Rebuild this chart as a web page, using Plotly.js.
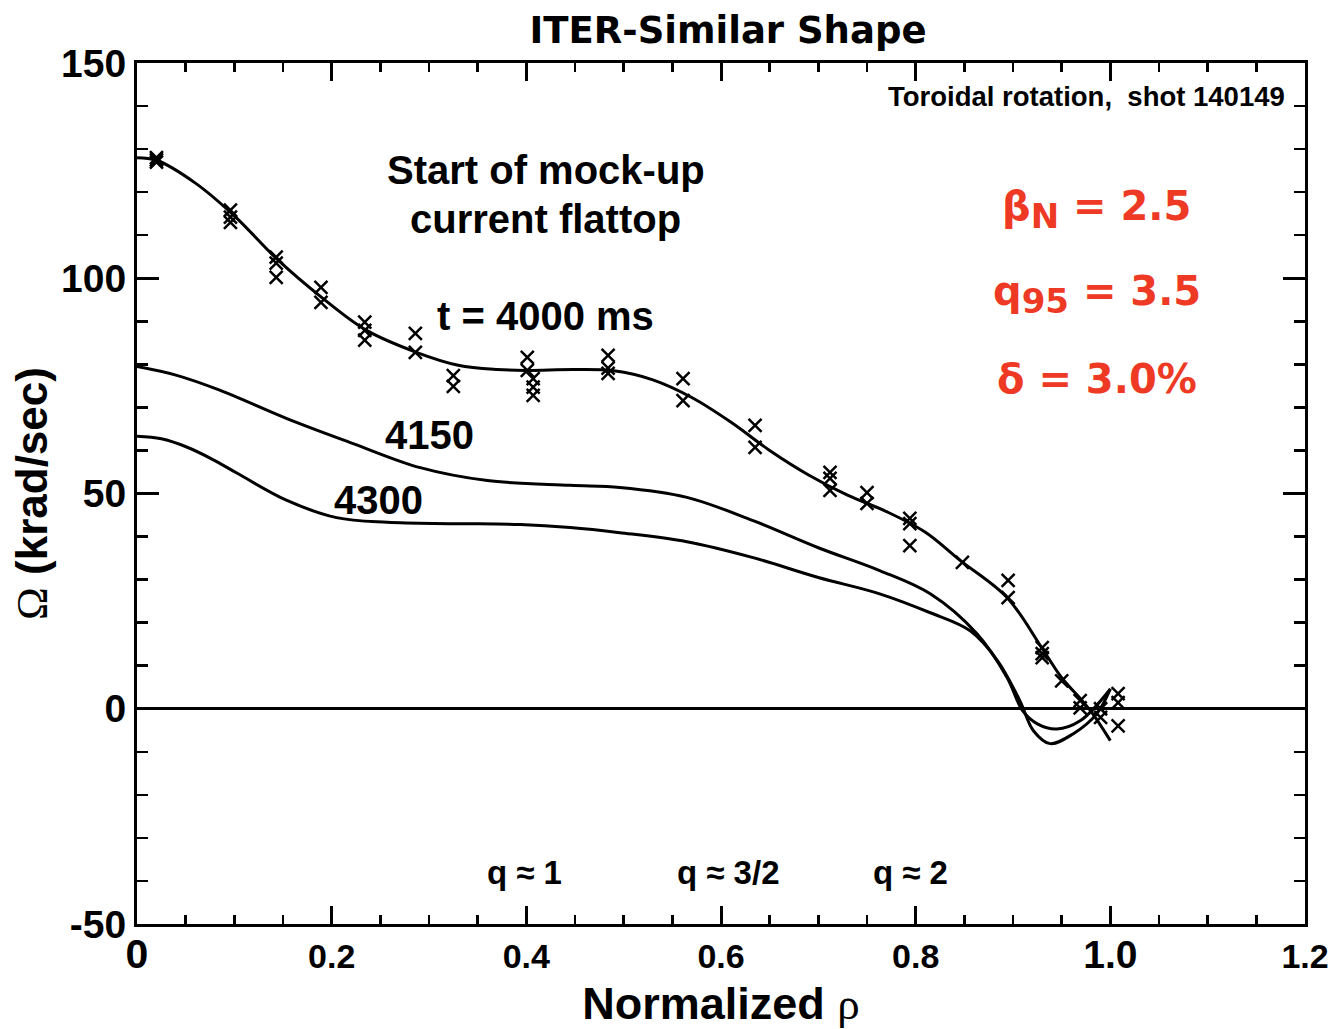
<!DOCTYPE html>
<html>
<head>
<meta charset="utf-8">
<script src="https://cdn.plot.ly/plotly-3.0.1.min.js"></script>
<style>body{margin:0;padding:0;background:#fff;}#chart{width:1344px;height:1029px;}</style>
</head>
<body>
<div id="chart"></div>
<script>
// Fitted profiles
const fit4000X = [0, 0.02, 0.06, 0.1, 0.145, 0.19, 0.235, 0.287, 0.33, 0.37, 0.4, 0.45, 0.49, 0.53, 0.57, 0.61, 0.65, 0.69, 0.73, 0.77, 0.81, 0.846, 0.894, 0.93, 0.95, 0.971, 0.982, 1.0];
const fit4000Y = [128, 127.4, 122.1, 114.5, 104.2, 95.5, 88, 82.8, 79.8, 78.8, 78.6, 78.8, 78.5, 76.4, 72.3, 66.6, 60.0, 54.3, 49.6, 45.8, 41.0, 34.4, 25.8, 14, 7.2, 1.9, -1.2, -7.4];

const fit4150X = [0, 0.04, 0.085, 0.154, 0.222, 0.291, 0.36, 0.445, 0.496, 0.565, 0.633, 0.70, 0.763, 0.815, 0.863, 0.894, 0.91, 0.925, 0.945, 0.969, 1.0];
const fit4150Y = [79.5, 77.5, 74, 67.4, 61.6, 56, 53, 51.9, 51.4, 49.1, 43.7, 37.4, 32.1, 26.7, 17.4, 7.2, -0.5, -3.5, -4.7, -2.8, 4.6];

const fit4300X = [0, 0.025, 0.051, 0.077, 0.103, 0.154, 0.205, 0.257, 0.325, 0.394, 0.445, 0.496, 0.565, 0.633, 0.70, 0.763, 0.815, 0.856, 0.884, 0.907, 0.921, 0.938, 0.962, 0.986, 1.0];
const fit4300Y = [63.3, 62.7, 60.8, 58.0, 54.7, 48.4, 44.4, 43.3, 43, 42.8, 42.1, 40.9, 38.8, 35.1, 30.5, 26.7, 22.3, 18.1, 11.2, 1.9, -5.1, -8.1, -5.8, -1.2, 4.6];

// Measured points (t = 4000 ms)
const obsX = [0.02, 0.02, 0.02, 0.096, 0.096, 0.096, 0.143, 0.143, 0.143, 0.189, 0.189, 0.234, 0.234, 0.234, 0.286, 0.286, 0.325, 0.325, 0.401, 0.401, 0.407, 0.407, 0.407, 0.484, 0.484, 0.484, 0.561, 0.561, 0.635, 0.635, 0.712, 0.712, 0.712, 0.750, 0.750, 0.794, 0.794, 0.794, 0.848, 0.895, 0.895, 0.930, 0.930, 0.930, 0.950, 0.969, 0.969, 0.99, 0.99, 1.008, 1.008, 1.008];
const obsY = [127.0, 127.5, 128.0, 115.8, 114.2, 113.0, 104.9, 103.5, 100.2, 97.9, 94.4, 89.8, 87.9, 85.6, 87.2, 82.8, 77.4, 74.9, 81.6, 78.6, 76.7, 74.7, 72.8, 82.1, 79.1, 77.9, 76.7, 71.6, 65.8, 60.7, 54.9, 53.5, 50.7, 50.2, 47.7, 44.2, 43.0, 37.9, 34.0, 29.8, 25.8, 14.2, 12.8, 11.9, 6.5, 1.9, 0.2, 0.0, -2.0, 3.5, 1.4, -4.0];

const xTickVals = [0, 0.2, 0.4, 0.6, 0.8, 1.0, 1.2];
const xTickText = ['<span style="font-size:41px">0</span>', '0.2', '0.4', '0.6', '0.8', '<span style="font-size:39px">1.0</span>', '1.2'];
const yTickVals = [-50, 0, 50, 100, 150];
const yTickText = ['-50', '0', '50', '100', '150'];

const lineStyle = {color: '#000', width: 3, shape: 'spline', smoothing: 1};
const traces = [
  {x: fit4000X, y: fit4000Y, mode: 'lines', line: lineStyle, hoverinfo: 'skip'},
  {x: fit4150X, y: fit4150Y, mode: 'lines', line: lineStyle, hoverinfo: 'skip'},
  {x: fit4300X, y: fit4300Y, mode: 'lines', line: lineStyle, hoverinfo: 'skip'},
  {x: obsX, y: obsY, mode: 'markers', marker: {symbol: 'x-thin-open', size: 13, color: '#000', line: {color: '#000', width: 2.5}}}
];

const helvB = 'Liberation Sans, Arial, sans-serif';
const gothic = 'DejaVu Sans, sans-serif';
const red = '#ee3a24';

function ann(x, y, text, size, opts) {
  return Object.assign({x: x, y: y, xref: 'x', yref: 'y', text: text, showarrow: false,
    font: {family: helvB, size: size, color: '#000', weight: 'bold'}, xanchor: 'center', yanchor: 'middle'}, opts || {});
}
const redFont = {family: gothic, size: 40, color: red, weight: 'bold'};

const annotations = [
  ann(0.42, 125.1, 'Start of mock-up', 40),
  ann(0.42, 113.8, 'current flattop', 40),
  ann(0.42, 91.2, 't = 4000 ms', 40),
  ann(0.301, 63.5, '4150', 40),
  ann(0.248, 48.4, '4300', 40),
  ann(0.398, -38.1, 'q ≈ 1', 33),
  ann(0.607, -38.1, 'q ≈ 3/2', 33),
  ann(0.795, -38.1, 'q ≈ 2', 33),
  ann(1.181, 142.2, 'Toroidal rotation,  shot 140149', 27.5, {xanchor: 'right'}),
  ann(0.986, 116.0, 'β<sub><span style="font-size:34px">N</span></sub> = 2.5', 40, {font: redFont}),
  ann(0.986, 96.3, 'q<sub><span style="font-size:34px">95</span></sub> = 3.5', 40, {font: redFont}),
  ann(0.986, 76.7, 'δ = 3.0%', 40, {font: redFont})
];

const layout = {
  width: 1344, height: 1029,
  margin: {l: 137, r: 39, t: 63, b: 105},
  paper_bgcolor: '#fff', plot_bgcolor: '#fff',
  showlegend: false,
  title: {text: 'ITER-Similar Shape', x: 0.506, xref: 'paper', y: 0.971, yref: 'container', xanchor: 'center', yanchor: 'middle',
    font: {family: gothic, size: 37, color: '#000', weight: 'bold'}},
  xaxis: {
    range: [0, 1.2], showgrid: false, zeroline: false,
    showline: true, linecolor: '#000', linewidth: 3, mirror: 'allticks',
    ticks: 'inside', ticklen: 18, tickwidth: 3, tickcolor: '#000',
    tickvals: xTickVals, ticktext: xTickText,
    tickfont: {family: helvB, size: 34, color: '#000', weight: 'bold'},
    minor: {dtick: 0.05, tick0: 0, ticks: 'inside', ticklen: 9, tickwidth: 2.5, tickcolor: '#000', showgrid: false},
    title: {text: 'Normalized <span style="font-family:Liberation Serif;font-weight:normal">ρ</span>', standoff: 12,
      font: {family: helvB, size: 45, color: '#000', weight: 'bold'}}
  },
  yaxis: {
    range: [-50, 150], showgrid: false,
    zeroline: true, zerolinecolor: '#000', zerolinewidth: 3,
    showline: true, linecolor: '#000', linewidth: 3, mirror: 'allticks',
    ticks: 'inside', ticklen: 22, tickwidth: 3, tickcolor: '#000',
    tickvals: yTickVals, ticktext: yTickText,
    tickfont: {family: helvB, size: 39, color: '#000', weight: 'bold'},
    minor: {dtick: 10, tick0: 0, ticks: 'inside', ticklen: 11, tickwidth: 2.5, tickcolor: '#000', showgrid: false},
    title: {text: '<span style="font-family:Liberation Serif;font-weight:normal">Ω</span> (krad/sec)', standoff: 0,
      font: {family: helvB, size: 44, color: '#000', weight: 'bold'}}
  },
  annotations: annotations
};

Plotly.newPlot('chart', traces, layout, {staticPlot: true, displayModeBar: false});
</script>
</body>
</html>
